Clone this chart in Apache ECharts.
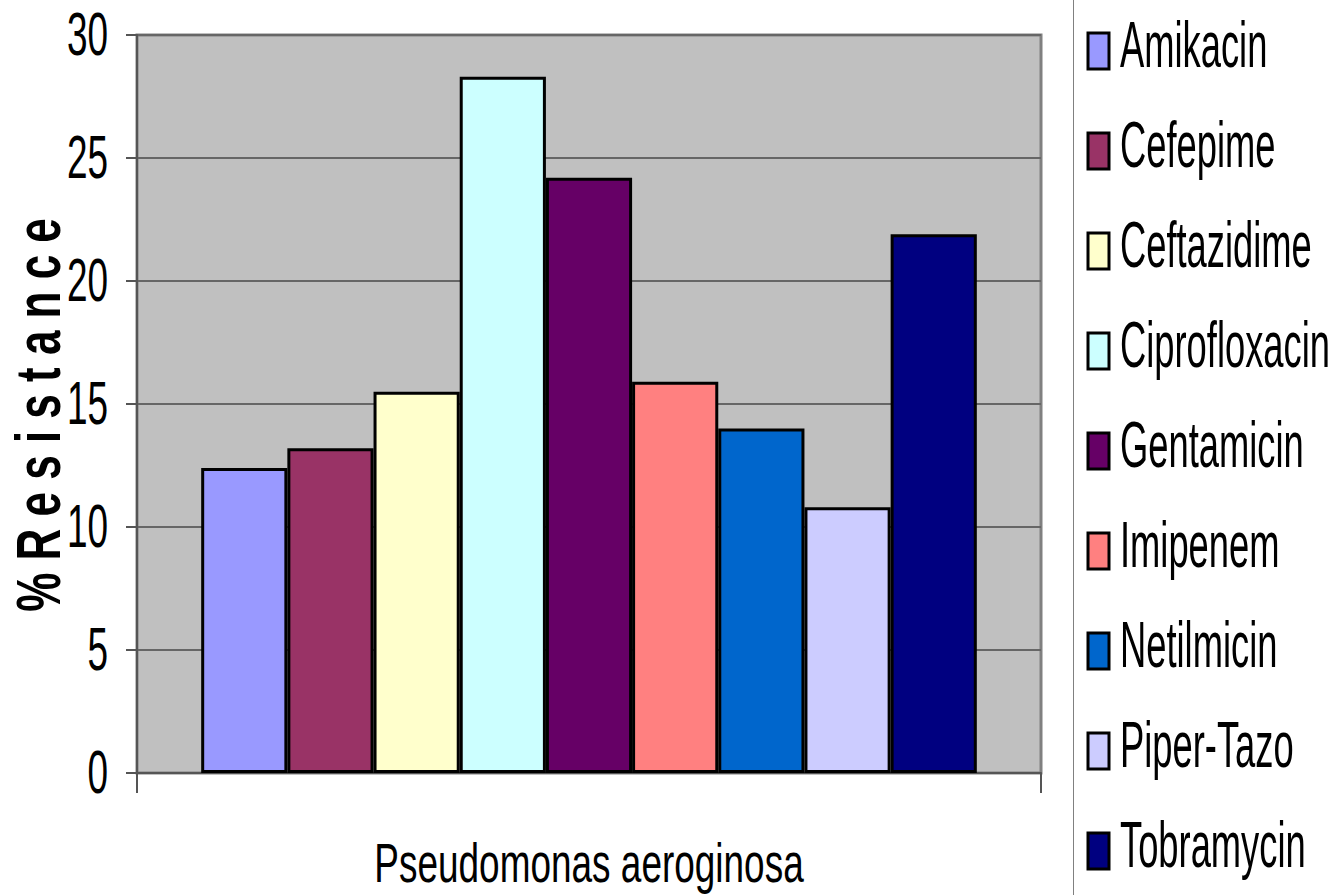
<!DOCTYPE html>
<html>
<head>
<meta charset="utf-8">
<title>Pseudomonas aeroginosa resistance</title>
<script src="https://cdn.jsdelivr.net/npm/echarts@6/dist/echarts.min.js"></script>
<style>
  html, body { margin: 0; padding: 0; background: #ffffff; }
  #chart { width: 1339px; height: 895px; }
</style>
</head>
<body>
<div id="chart"></div>
<script>
// Organism on the category axis
const categories = ['Pseudomonas aeroginosa'];

// Antibiotics, one bar each
const drugs = ['Amikacin', 'Cefepime', 'Ceftazidime', 'Ciprofloxacin', 'Gentamicin',
               'Imipenem', 'Netilmicin', 'Piper-Tazo', 'Tobramycin'];

// Percentage of resistant isolates
const resistance = [12.4, 13.2, 15.5, 28.3, 24.2, 15.9, 14.0, 10.8, 21.9];

// Value axis tick labels
const yTicks = [0, 5, 10, 15, 20, 25, 30];

const yTitle = '% R e s i s t a n c e';

// Classic office palette
const palette = ['#9999FF', '#993366', '#FFFFCC', '#CCFFFF', '#660066',
                 '#FF8080', '#0066CC', '#CCCCFF', '#000080'];

const FONT = '"Liberation Sans", Arial, sans-serif';

const chart = echarts.init(document.getElementById('chart'), null, { renderer: 'svg' });

chart.setOption({
  animation: false,
  backgroundColor: '#ffffff',
  grid: {
    left: 137, right: 298, top: 35, bottom: 122,
    show: true,
    backgroundColor: '#C0C0C0',
    borderColor: '#808080',
    borderWidth: 3
  },
  xAxis: {
    type: 'category',
    data: categories,
    axisLine: { lineStyle: { color: '#555555', width: 2 } },
    axisTick: { show: true, length: 20, lineStyle: { color: '#555555', width: 2 } },
    axisLabel: { show: false },
    splitLine: { show: false }
  },
  yAxis: {
    type: 'value',
    min: yTicks[0],
    max: yTicks[yTicks.length - 1],
    interval: yTicks[1] - yTicks[0],
    axisLine: { show: true, lineStyle: { color: '#555555', width: 2 } },
    axisTick: { show: true, length: 11, lineStyle: { color: '#555555', width: 2 } },
    axisLabel: { show: false },
    splitLine: { show: true, lineStyle: { color: '#666666', width: 2 } }
  },
  series: drugs.map((name, i) => ({
    type: 'bar',
    name: name,
    data: [resistance[i]],
    barGap: '0%',
    barCategoryGap: '14.2%',
    itemStyle: { color: palette[i], borderColor: '#000000', borderWidth: 3 }
  }))
});

// Tall, condensed text drawn as graphic elements positioned from the axes
function label(text, x, y, opts) {
  return {
    type: 'text',
    x: x, y: y,
    rotation: opts.rotation || 0,
    scaleX: opts.sx, scaleY: opts.sy,
    z: 100,
    style: {
      text: text,
      x: 0, y: 0,
      font: (opts.weight || 'normal') + ' ' + opts.size + 'px ' + FONT,
      fill: '#000000',
      align: opts.align || 'left',
      verticalAlign: 'middle',
      textAlign: opts.align || 'left',
      textVerticalAlign: 'middle'
    }
  };
}

const elements = [];

// value axis tick labels
yTicks.forEach(v => {
  const py = chart.convertToPixel({ yAxisIndex: 0 }, v);
  elements.push(label(String(v), 108, py - 1, { size: 44, sx: 0.84, sy: 1.38, align: 'right' }));
});

// category label under the axis
const zeroY = chart.convertToPixel({ yAxisIndex: 0 }, 0);
categories.forEach(c => {
  const px = chart.convertToPixel({ xAxisIndex: 0 }, c);
  elements.push(label(c, px, zeroY + 90, { size: 42, sx: 0.88, sy: 1.32, align: 'center' }));
});

// rotated value axis title
const topY = chart.convertToPixel({ yAxisIndex: 0 }, yTicks[yTicks.length - 1]);
elements.push(label(yTitle, 38, (topY + zeroY) / 2 + 11,
  { size: 44, sx: 1.0, sy: 1.42, align: 'center', weight: 'bold', rotation: Math.PI / 2 }));

// separator between plot and legend
elements.push({
  type: 'line', z: 100,
  shape: { x1: 1073.5, y1: 0, x2: 1073.5, y2: 895 },
  style: { stroke: '#808080', lineWidth: 1 }
});

// legend swatches and names
drugs.forEach((name, i) => {
  const rowY = 45 + 100 * i;
  elements.push({
    type: 'rect', z: 100,
    shape: { x: 1088, y: rowY - 12, width: 21, height: 36 },
    style: { fill: palette[i], stroke: '#000000', lineWidth: 3 }
  });
  elements.push(label(name, 1120, rowY, { size: 46, sx: 0.79, sy: 1.40, align: 'left' }));
});

chart.setOption({ graphic: { elements: elements } });
</script>
</body>
</html>
